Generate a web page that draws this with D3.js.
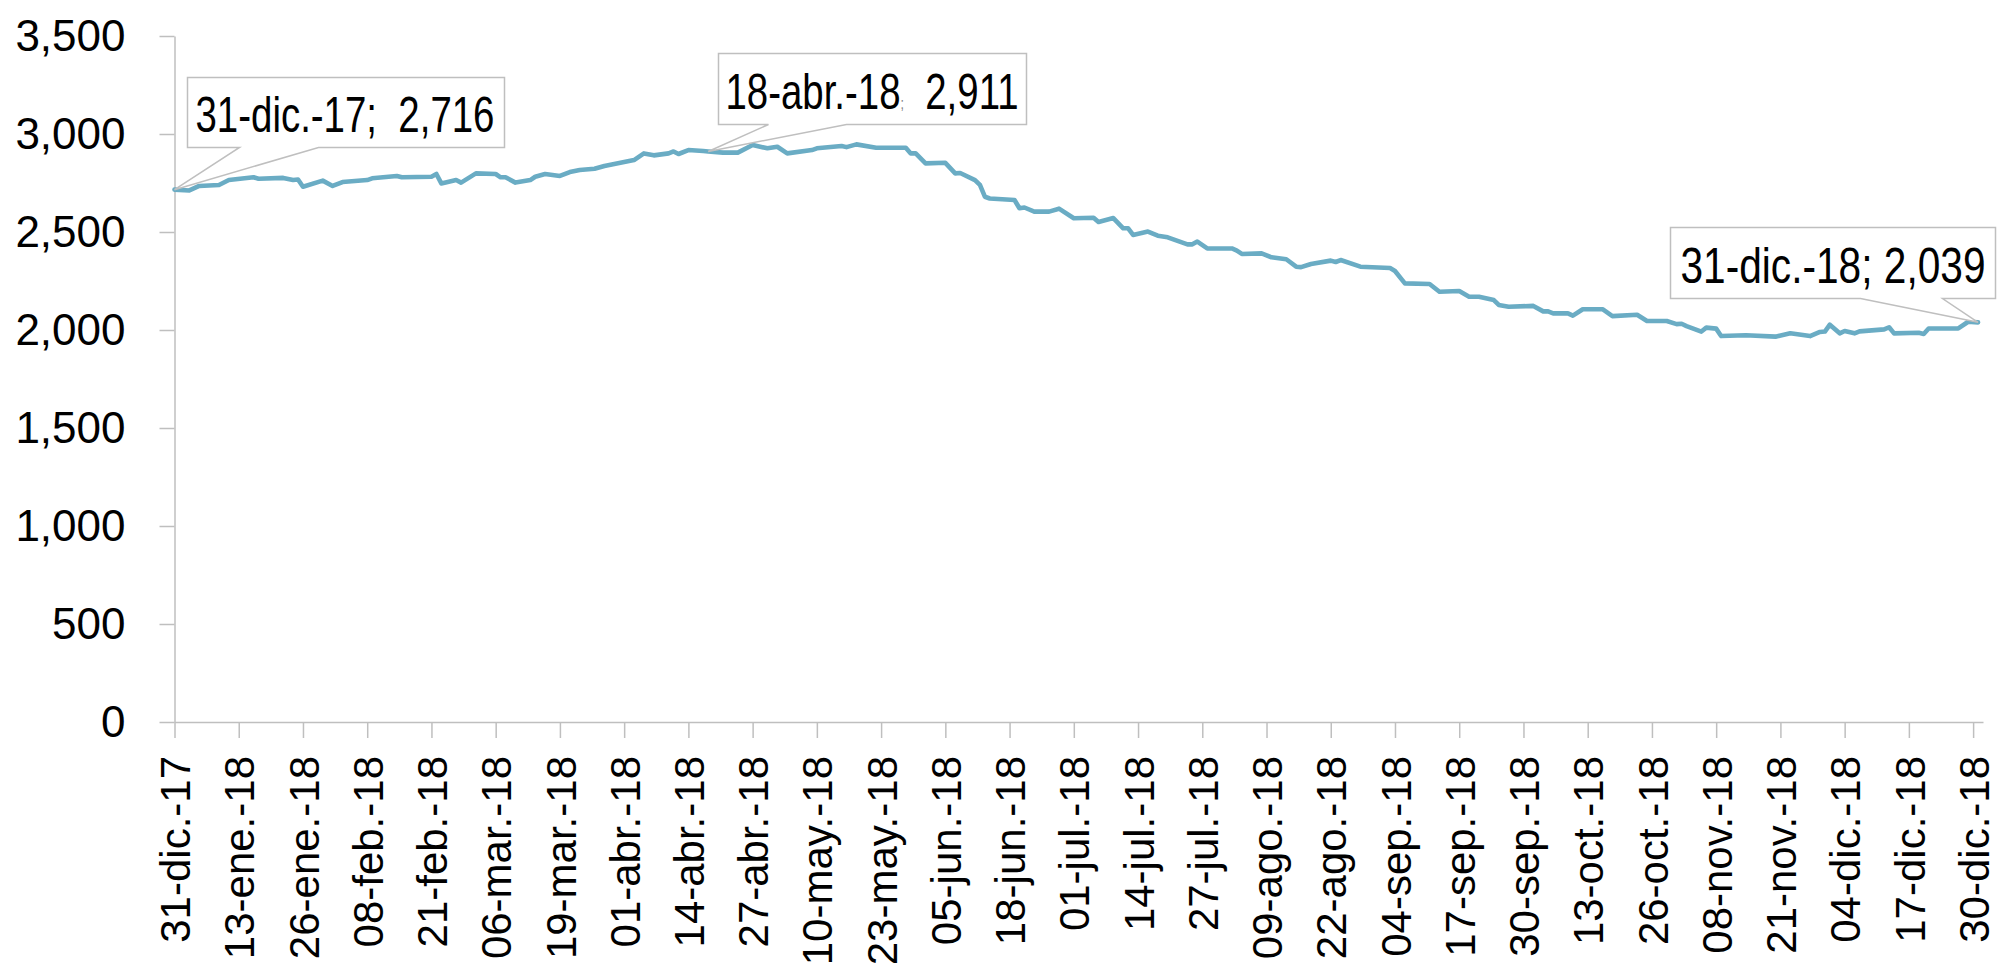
<!DOCTYPE html>
<html>
<head>
<meta charset="utf-8">
<script src="https://cdn.jsdelivr.net/npm/d3@7"></script>
<style>
  html, body { margin: 0; padding: 0; background: #ffffff; }
  svg { display: block; }
  text { font-family: "Liberation Sans", Arial, sans-serif; fill: #000; }
</style>
</head>
<body>
<svg id="chart" width="2003" height="963"></svg>
<script>
// Daily series, 31-dic-2017 .. 31-dic-2018
const dates = [
  "2017-12-31","2018-01-03","2018-01-05","2018-01-09","2018-01-11","2018-01-16","2018-01-17","2018-01-22",
  "2018-01-24","2018-01-25","2018-01-26","2018-01-30","2018-02-01","2018-02-03","2018-02-08","2018-02-09",
  "2018-02-14","2018-02-15","2018-02-21","2018-02-22","2018-02-23","2018-02-26","2018-02-27","2018-03-02",
  "2018-03-06","2018-03-07","2018-03-08","2018-03-10","2018-03-13","2018-03-14","2018-03-16","2018-03-19",
  "2018-03-21","2018-03-23","2018-03-26","2018-03-28","2018-04-03","2018-04-05","2018-04-07","2018-04-10",
  "2018-04-11","2018-04-12","2018-04-14","2018-04-17","2018-04-18","2018-04-21","2018-04-24","2018-04-27",
  "2018-04-30","2018-05-02","2018-05-04","2018-05-09","2018-05-10","2018-05-15","2018-05-16","2018-05-18",
  "2018-05-22","2018-05-28","2018-05-29","2018-05-30","2018-06-01","2018-06-05","2018-06-07","2018-06-08",
  "2018-06-11","2018-06-12","2018-06-13","2018-06-14","2018-06-19","2018-06-20","2018-06-21","2018-06-23",
  "2018-06-26","2018-06-28","2018-07-01","2018-07-05","2018-07-06","2018-07-09","2018-07-11","2018-07-12",
  "2018-07-13","2018-07-16","2018-07-18","2018-07-20","2018-07-24","2018-07-25","2018-07-26","2018-07-28",
  "2018-08-02","2018-08-03","2018-08-04","2018-08-08","2018-08-10","2018-08-13","2018-08-15","2018-08-16",
  "2018-08-18","2018-08-22","2018-08-23","2018-08-24","2018-08-28","2018-09-03","2018-09-04","2018-09-06",
  "2018-09-11","2018-09-13","2018-09-17","2018-09-19","2018-09-21","2018-09-24","2018-09-25","2018-09-27",
  "2018-10-02","2018-10-04","2018-10-05","2018-10-06","2018-10-09","2018-10-10","2018-10-12","2018-10-16",
  "2018-10-18","2018-10-23","2018-10-25","2018-10-29","2018-10-31","2018-11-01","2018-11-02","2018-11-05",
  "2018-11-06","2018-11-08","2018-11-09","2018-11-14","2018-11-20","2018-11-23","2018-11-27","2018-11-29",
  "2018-11-30","2018-12-01","2018-12-03","2018-12-04","2018-12-06","2018-12-07","2018-12-12","2018-12-13",
  "2018-12-14","2018-12-19","2018-12-20","2018-12-21","2018-12-27","2018-12-29","2018-12-31"
];
const values = [
  2716,2712,2735,2740,2765,2779,2772,2776,
  2765,2768,2731,2762,2735,2755,2765,2774,
  2786,2779,2782,2796,2748,2765,2752,2799,
  2796,2779,2779,2752,2765,2782,2796,2786,
  2806,2816,2823,2837,2867,2901,2891,2901,
  2911,2898,2918,2913,2911,2905,2905,2944,
  2927,2935,2901,2918,2927,2939,2933,2947,
  2930,2930,2901,2901,2850,2853,2799,2801,
  2765,2740,2680,2671,2663,2621,2625,2604,
  2604,2619,2570,2573,2551,2571,2519,2519,
  2485,2502,2481,2473,2437,2437,2451,2416,
  2416,2405,2388,2391,2371,2361,2323,2321,
  2337,2354,2347,2357,2323,2316,2301,2238,
  2235,2195,2199,2170,2170,2153,2128,2119,
  2123,2095,2095,2085,2085,2073,2106,2106,
  2071,2078,2046,2046,2030,2032,2020,1992,
  2012,2007,1969,1973,1966,1983,1969,1990,
  1992,2027,1983,1995,1983,1993,2003,2014,
  1983,1986,1980,2008,2008,2042,2039
];

// Axis ticks
const yTicks = [0, 500, 1000, 1500, 2000, 2500, 3000, 3500];
const xTickStart = "2017-12-31";
const xTickStepDays = 13;
const xTickCount = 29;
const monthsEs = ["ene","feb","mar","abr","may","jun","jul","ago","sep","oct","nov","dic"];

// Annotated points
const calloutDates = ["2017-12-31", "2018-04-18", "2018-12-31"];

const parse = d3.utcParse("%Y-%m-%d");
const series = dates.map((d, i) => ({ date: parse(d), value: values[i] }));

const fmtDate = d => {
  const dd = String(d.getUTCDate()).padStart(2, "0");
  const yy = String(d.getUTCFullYear() % 100).padStart(2, "0");
  return `${dd}-${monthsEs[d.getUTCMonth()]}.-${yy}`;
};
const fmtNum = d3.format(",");

const svg = d3.select("#chart");
const x0 = 174.5, x1 = 1983, yBottom = 722, yTop = 36;

const x = d3.scaleUtc()
  .domain([parse("2017-12-31"), parse("2019-01-01")])
  .range([x0, x1]);
const y = d3.scaleLinear().domain([0, 3500]).range([yBottom, yTop]);

const axisColor = "#BFBFBF";

// Y axis
const gy = svg.append("g")
  .attr("transform", `translate(${x0},0)`)
  .call(d3.axisLeft(y).tickValues(yTicks).tickSize(15).tickSizeOuter(0)
    .tickPadding(34).tickFormat(fmtNum));
gy.select(".domain").attr("stroke", axisColor).attr("stroke-width", 1.5);
gy.selectAll(".tick line").attr("stroke", axisColor).attr("stroke-width", 1.5);
gy.selectAll(".tick text")
  .attr("font-size", 44)
  .attr("font-family", "'Liberation Sans', Arial, sans-serif")
  .attr("fill", "#000");

// X axis
const start = parse(xTickStart);
const xTicks = d3.range(xTickCount).map(i => d3.utcDay.offset(start, i * xTickStepDays));
const gx = svg.append("g")
  .attr("transform", `translate(0,${yBottom})`)
  .call(d3.axisBottom(x).tickValues(xTicks).tickSize(16).tickSizeOuter(0)
    .tickFormat(fmtDate));
gx.select(".domain").attr("stroke", axisColor).attr("stroke-width", 1.5);
gx.selectAll(".tick line").attr("stroke", axisColor).attr("stroke-width", 1.5);
gx.selectAll(".tick text")
  .attr("font-size", 42)
  .attr("font-family", "'Liberation Sans', Arial, sans-serif")
  .attr("fill", "#000")
  .attr("text-anchor", "end")
  .attr("transform", "rotate(-90)")
  .attr("x", -34)
  .attr("y", 0)
  .attr("dy", "0.36em");

// Series line
const line = d3.line().x(d => x(d.date)).y(d => y(d.value));
svg.append("path")
  .datum(series)
  .attr("d", line)
  .attr("fill", "none")
  .attr("stroke", "#6AACC4")
  .attr("stroke-width", 4.6)
  .attr("stroke-linejoin", "round")
  .attr("stroke-linecap", "round");

// Callout boxes: box offset from the point, size, wedge base (from box left), text width
const calloutLayout = [
  { dx: 12,   dy: -113, w: 317, h: 70, wedge: [52, 131],  tx: 8,  tw: 299, sep: ";  ", sepSmall: false },
  { dx: 10,   dy: -98,  w: 308, h: 71, wedge: [50, 128],  tx: 7,  tw: 293, sep: ";",   sepSmall: true  },
  { dx: -308, dy: -95,  w: 325, h: 71, wedge: [190, 272], tx: 10, tw: 305, sep: "; ",  sepSmall: false }
];

calloutDates.forEach((ds, i) => {
  const pt = series.find(s => +s.date === +parse(ds));
  const L = calloutLayout[i];
  const px = x(pt.date), py = y(pt.value);
  const bx = Math.round(px + L.dx) + 0.5, by = Math.round(py + L.dy) + 0.5;
  const bw = L.w, bh = L.h;
  const w1 = bx + L.wedge[0], w2 = bx + L.wedge[1];
  const p = d3.path();
  p.moveTo(bx, by);
  p.lineTo(bx + bw, by);
  p.lineTo(bx + bw, by + bh);
  p.lineTo(w2, by + bh);
  p.lineTo(px, py);
  p.lineTo(w1, by + bh);
  p.lineTo(bx, by + bh);
  p.closePath();
  svg.append("path")
    .attr("d", p.toString())
    .attr("fill", "#fff")
    .attr("stroke", axisColor)
    .attr("stroke-width", 1.5)
    .attr("stroke-linejoin", "miter");

  const t = svg.append("text")
    .attr("x", bx + L.tx)
    .attr("y", by + bh - 16)
    .attr("font-size", 50)
    .attr("font-family", "'Liberation Sans Narrow', 'Liberation Sans', Arial, sans-serif")
    .attr("textLength", L.tw)
    .attr("lengthAdjust", "spacingAndGlyphs")
    .style("white-space", "pre");
  t.append("tspan").text(fmtDate(pt.date));
  if (L.sepSmall) {
    t.append("tspan").attr("font-size", 16).attr("fill", "#7f7f7f").text(L.sep);
    t.append("tspan").text("  " + fmtNum(pt.value));
  } else {
    t.append("tspan").text(L.sep + fmtNum(pt.value));
  }
});
</script>
</body>
</html>
